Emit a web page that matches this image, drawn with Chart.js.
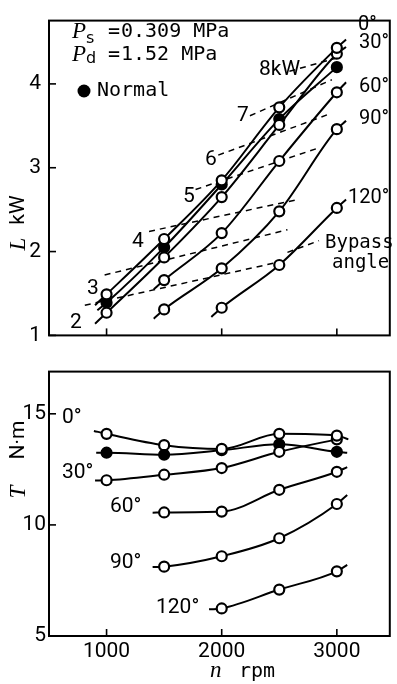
<!DOCTYPE html>
<html><head><meta charset="utf-8">
<script src="https://cdn.jsdelivr.net/npm/chart.js@4/dist/chart.umd.min.js"></script>
<style>html,body{margin:0;padding:0;background:#fff;}canvas{display:block;}</style>
</head><body>
<canvas id="top" width="397" height="356"></canvas>
<canvas id="bot" width="397" height="328"></canvas>
<script>
// ---------- data ----------
var rpm = [1000, 1500, 2000, 2500, 3000];
var xTicks = [1000, 2000, 3000];
var lTicks = [1, 2, 3, 4];
var tTicks = [5, 10, 15];
var angleNames = ['0°', '30°', '60°', '90°', '120°'];

// shaft power L (kW), by bypass angle
var L_0   = [1.49, 2.15, 2.85, 3.72, 4.43];
var L_30  = [1.27, 1.93, 2.65, 3.51, 4.36];
var L_nor = [1.39, 2.05, 2.80, 3.58, 4.20];
var L_60  = [null, 1.66, 2.22, 3.08, 3.90];
var L_90  = [null, 1.31, 1.80, 2.48, 3.46];
var L_120 = [null, null, 1.33, 1.84, 2.52];
// short line continuations beyond the measured points [rpm, value]
var L_0_ends   = [[900, 1.36], [3080, 4.53]];
var L_30_ends  = [[900, 1.14], [3080, 4.44]];
var L_nor_ends = [[920, 1.30], null];
var L_60_ends  = [[1410, 1.55], [3080, 4.02]];
var L_90_ends  = [[1410, 1.20], [3080, 3.56]];
var L_120_ends = [[1910, 1.22], [3080, 2.62]];

// constant-capacity dashed lines (kW labels) [rpm, L]
var capLabels = ['2', '3', '4', '5', '6', '7', '8kW'];
var cap2 = [[811, 1.36], [2511, 1.88]];
var cap3 = [[983, 1.72], [2571, 2.26]];
var cap4 = [[1369, 2.24], [2657, 2.62]];
var cap5 = [[1773, 2.74], [2828, 3.23]];
var cap6 = [[1970, 3.15], [2914, 3.63]];
var cap7 = [[2245, 3.62], [2957, 4.05]];
var cap8 = [[2588, 4.15], [3000, 4.31]];
var bypassLeader = [[2571, 1.99], [2845, 2.13]];

// torque T (N·m)
var T_0   = [14.10, 13.59, 13.42, 14.10, 14.02];
var T_30  = [12.01, 12.26, 12.56, 13.29, 13.85];
var T_nor = [13.25, 13.16, 13.36, 13.63, 13.29];
var T_60  = [null, 10.56, 10.60, 11.58, 12.39];
var T_90  = [null, 8.12, 8.59, 9.40, 10.94];
var T_120 = [null, null, 6.24, 7.09, 7.91];
var T_0_ends   = [[890, 14.23], [3100, 13.85]];
var T_30_ends  = [[900, 12.00], null];
var T_nor_ends = [[910, 13.25], [3090, 13.25]];
var T_60_ends  = [[1400, 10.55], [3090, 12.60]];
var T_90_ends  = [[1400, 8.10], [3090, 11.35]];
var T_120_ends = [[1890, 6.20], [3090, 8.20]];

// ---------- helpers ----------
function curve(vals, ends, filled, order) {
  var pts = [], rad = [];
  if (ends[0]) { pts.push({x: ends[0][0], y: ends[0][1]}); rad.push(0); }
  rpm.forEach(function (r, i) { if (vals[i] !== null) { pts.push({x: r, y: vals[i]}); rad.push(5); } });
  if (ends[1]) { pts.push({x: ends[1][0], y: ends[1][1]}); rad.push(0); }
  return {
    data: pts, borderColor: '#000', borderWidth: 2,
    pointRadius: rad, pointBorderWidth: 2.2, pointBorderColor: '#000',
    pointBackgroundColor: filled ? '#000' : '#fff',
    cubicInterpolationMode: 'monotone', order: order
  };
}
function dashed(seg) {
  return {
    data: seg.map(function (p) { return {x: p[0], y: p[1]}; }), borderColor: '#000', borderWidth: 1.5,
    borderDash: [6, 5], pointRadius: 0, order: 20
  };
}
function txt(ctx, s, x, y, font, align, base) {
  ctx.save(); ctx.font = font; ctx.fillStyle = '#000';
  ctx.textAlign = align || 'left'; ctx.textBaseline = base || 'middle';
  ctx.fillText(s, x, y); ctx.restore();
}
var NUM = '21px Roboto';
var DEG = '20px Roboto';
var MONO = '20px "DejaVu Sans Mono"';
var MONO2 = '19px "DejaVu Sans Mono"';
var ITAL = 'italic 23px "Liberation Serif"';

function frame(chart) {
  var ctx = chart.ctx, a = chart.chartArea;
  ctx.save(); ctx.strokeStyle = '#000'; ctx.lineWidth = 2;
  ctx.strokeRect(a.left, a.top, a.right - a.left, a.bottom - a.top);
  ctx.lineWidth = 1.6;
  chart.scales.y.ticks.forEach(function (t) {
    var y = chart.scales.y.getPixelForValue(t.value);
    ctx.beginPath(); ctx.moveTo(a.left, y); ctx.lineTo(a.left + 7, y); ctx.stroke();
  });
  chart.scales.x.ticks.forEach(function (t) {
    var x = chart.scales.x.getPixelForValue(t.value);
    ctx.beginPath(); ctx.moveTo(x, a.bottom); ctx.lineTo(x, a.bottom - 7); ctx.stroke();
  });
  ctx.restore();
}

function xScale(showLabels) {
  return {
    type: 'linear', min: 500, max: 3460,
    grid: {display: false, drawTicks: false}, border: {display: false},
    ticks: {display: showLabels, font: {family: 'Roboto', size: 21}, color: '#000', padding: 3,
            maxRotation: 0, callback: function (v) { return String(v); }},
    afterBuildTicks: function (s) { s.ticks = xTicks.map(function (v) { return {value: v}; }); },
    afterFit: function (s) { s.height = showLabels ? 48 : 0; }
  };
}
function yScale(min, max, ticks, pad) {
  return {
    type: 'linear', min: min, max: max,
    grid: {display: false, drawTicks: false}, border: {display: false},
    ticks: {font: {family: 'Roboto', size: 21}, color: '#000', padding: pad, callback: function (v) { return String(v); }},
    afterBuildTicks: function (s) { s.ticks = ticks.map(function (v) { return {value: v}; }); },
    afterFit: function (s) { s.width = 49; }
  };
}

// ---------- top chart ----------
new Chart(document.getElementById('top'), {
  type: 'line',
  data: {datasets: [
    curve(L_0, L_0_ends, false, 1),
    curve(L_30, L_30_ends, false, 1),
    curve(L_nor, L_nor_ends, true, 3),
    curve(L_60, L_60_ends, false, 1),
    curve(L_90, L_90_ends, false, 1),
    curve(L_120, L_120_ends, false, 1),
    dashed(cap2), dashed(cap3), dashed(cap4), dashed(cap5), dashed(cap6), dashed(cap7), dashed(cap8),
    dashed(bypassLeader)
  ]},
  options: {
    responsive: false, animation: false, devicePixelRatio: 1,
    layout: {padding: {top: 10, right: 3, bottom: 3, left: 0}},
    plugins: {legend: {display: false}, tooltip: {enabled: false}},
    scales: {x: xScale(false), y: yScale(1, 4.755, lTicks, 8)}
  },
  plugins: [{
    id: 'deco',
    afterDraw: function (chart) {
      var ctx = chart.ctx;
      frame(chart);
      // pressure conditions
      txt(ctx, 'P', 72, 38, ITAL, 'left', 'alphabetic');
      txt(ctx, 's', 86, 43, '16px "DejaVu Sans"', 'left', 'alphabetic');
      txt(ctx, '=', 108, 32, MONO);
      txt(ctx, '0.309 MPa', 121, 32, MONO);
      txt(ctx, 'P', 72, 61, ITAL, 'left', 'alphabetic');
      txt(ctx, 'd', 86, 63, '16px "DejaVu Sans"', 'left', 'alphabetic');
      txt(ctx, '=', 108, 55, MONO);
      txt(ctx, '1.52 MPa', 121, 55, MONO);
      // legend
      ctx.save(); ctx.fillStyle = '#000'; ctx.beginPath(); ctx.arc(84, 91, 6.5, 0, Math.PI * 2); ctx.fill(); ctx.restore();
      txt(ctx, 'Normal', 97, 91, MONO);
      // angle labels
      txt(ctx, angleNames[0], 358, 25, DEG);
      txt(ctx, angleNames[1], 359, 43, DEG);
      txt(ctx, angleNames[2], 359, 87, DEG);
      txt(ctx, angleNames[3], 359, 119, DEG);
      txt(ctx, angleNames[4], 348, 198, DEG);
      txt(ctx, 'Bypass', 325, 243, MONO2);
      txt(ctx, 'angle', 332, 263, MONO2);
      // capacity labels
      txt(ctx, capLabels[0], 70, 323, NUM);
      txt(ctx, capLabels[1], 87, 289, NUM);
      txt(ctx, capLabels[2], 132, 242, NUM);
      txt(ctx, capLabels[3], 183, 197, NUM);
      txt(ctx, capLabels[4], 205, 160, NUM);
      txt(ctx, capLabels[5], 237, 116, NUM);
      txt(ctx, capLabels[6], 259, 70, NUM);
      // y title
      ctx.save(); ctx.translate(19, 0); ctx.rotate(-Math.PI / 2);
      txt(ctx, 'L', -244, 0, ITAL, 'center');
      txt(ctx, 'kW', -210, 0, NUM, 'center');
      ctx.restore();
    }
  }]
});

// ---------- bottom chart ----------
new Chart(document.getElementById('bot'), {
  type: 'line',
  data: {datasets: [
    curve(T_0, T_0_ends, false, 1),
    curve(T_30, T_30_ends, false, 1),
    curve(T_nor, T_nor_ends, true, 3),
    curve(T_60, T_60_ends, false, 1),
    curve(T_90, T_90_ends, false, 1),
    curve(T_120, T_120_ends, false, 1)
  ]},
  options: {
    responsive: false, animation: false, devicePixelRatio: 1,
    layout: {padding: {top: 1, right: 3, bottom: 0, left: 0}},
    plugins: {legend: {display: false}, tooltip: {enabled: false}},
    scales: {x: xScale(true), y: yScale(5, 16.9, tTicks, 3)}
  },
  plugins: [{
    id: 'deco2',
    afterDraw: function (chart) {
      var ctx = chart.ctx;
      frame(chart);
      var o = 356;
      txt(ctx, angleNames[0], 62, 418 - o, NUM);
      txt(ctx, angleNames[1], 62, 473 - o, NUM);
      txt(ctx, angleNames[2], 110, 507 - o, NUM);
      txt(ctx, angleNames[3], 110, 563 - o, NUM);
      txt(ctx, angleNames[4], 156, 608 - o, NUM);
      // y title
      ctx.save(); ctx.translate(19, 0); ctx.rotate(-Math.PI / 2);
      txt(ctx, 'T', -(492 - o), 0, ITAL, 'center');
      txt(ctx, 'N·m', -(440 - o), 0, NUM, 'center');
      ctx.restore();
      // x title
      txt(ctx, 'n', 210, 677 - o, ITAL, 'left', 'alphabetic');
      txt(ctx, 'rpm', 239, 677 - o, MONO, 'left', 'alphabetic');
    }
  }]
});
</script>
</body></html>
